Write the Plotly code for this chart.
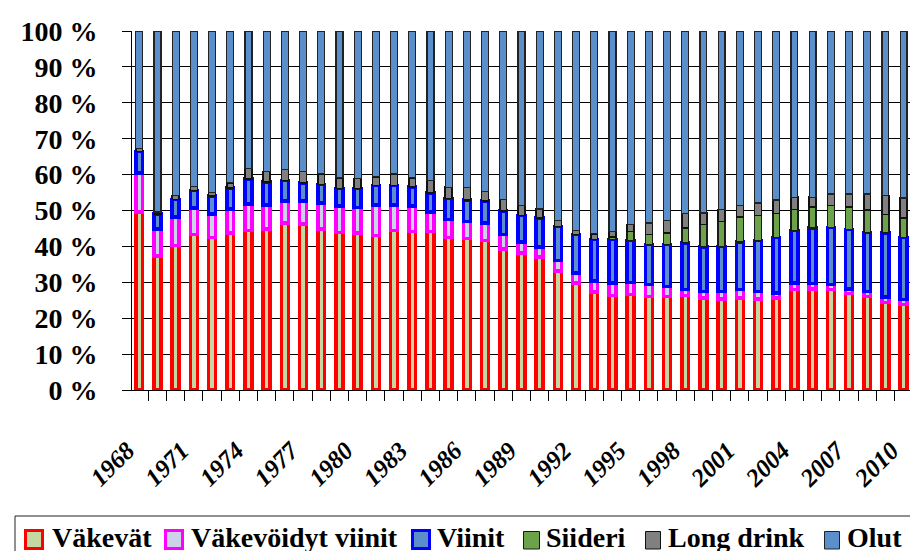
import plotly.graph_objects as go

years = list(range(1968, 2012))

vakevat = [49.6, 37.3, 40.3, 43.3, 42.5, 43.7, 44.5, 44.9, 46.5, 46.3,
           44.9, 43.9, 43.7, 43.0, 44.4, 44.2, 44.2, 42.5, 42.2, 41.7,
           39.3, 38.2, 37.1, 33.1, 29.8, 27.3, 26.3, 26.6, 26.1, 26.1,
           26.3, 25.6, 25.4, 25.6, 25.4, 25.6, 28.0, 28.2, 28.0, 26.9,
           26.1, 24.4, 23.8, 22.4]
vakevoidyt = [10.8, 7.6, 7.9, 7.4, 6.5, 6.7, 7.3, 6.6, 6.1, 6.3,
              7.2, 7.3, 7.2, 8.5, 7.2, 7.0, 5.4, 5.0, 4.8, 4.8,
              4.0, 3.0, 2.8, 3.0, 2.8, 3.0, 3.5, 3.4, 3.3, 2.8,
              1.7, 1.9, 2.1, 2.4, 2.1, 1.4, 1.8, 1.4, 1.4, 1.3,
              1.4, 1.5, 1.4, 1.2]
viinit = [6.0, 4.1, 4.8, 4.9, 5.0, 5.9, 7.0, 6.4, 5.7, 5.1,
          5.1, 4.9, 5.2, 5.4, 5.4, 5.4, 5.3, 5.8, 5.9, 6.1,
          6.5, 7.4, 8.0, 9.5, 10.7, 11.6, 12.1, 11.7, 11.1, 11.6,
          13.0, 12.4, 12.5, 13.2, 14.1, 15.5, 14.7, 15.5, 15.9, 16.5,
          16.4, 17.9, 17.3, 18.8]
siideri = [0, 0, 0, 0, 0, 0, 0, 0, 0, 0,
           0, 0, 0, 0, 0, 0, 0, 0, 0, 0,
           0, 0, 0, 0, 0, 0, 0.7, 2.5, 2.8, 3.3,
           4.1, 6.2, 7.0, 7.0, 7.0, 6.6, 5.8, 5.9, 6.1, 6.3,
           6.2, 5.1, 5.4, 5.1]
long_drink = [0.9, 0.6, 1.2, 1.1, 1.1, 1.4, 2.9, 3.0, 3.1, 3.2,
              3.0, 3.0, 2.8, 2.5, 3.2, 2.5, 3.4, 3.2, 3.6, 2.8,
              3.2, 2.9, 2.5, 1.7, 1.2, 1.6, 1.6, 1.9, 3.2, 3.4,
              4.0, 3.2, 3.3, 3.2, 3.5, 3.8, 3.4, 2.7, 3.2, 3.6,
              4.5, 5.3, 5.6, 5.5]
olut = [32.7, 50.4, 45.8, 43.3, 44.9, 42.3, 38.3, 39.1, 38.6, 39.1,
        39.8, 40.9, 41.1, 40.6, 39.8, 40.9, 41.7, 43.5, 43.5, 44.6,
        47.0, 48.5, 49.6, 52.7, 55.5, 56.5, 55.8, 53.9, 53.5, 52.8,
        50.9, 50.7, 49.7, 48.6, 47.9, 47.1, 46.3, 46.3, 45.4, 45.4,
        45.4, 45.8, 46.5, 47.0]

series_names = ["Väkevät", "Väkevöidyt viinit", "Viinit", "Siideri", "Long drink", "Olut"]
series_values = [vakevat, vakevoidyt, viinit, siideri, long_drink, olut]

tick_years = list(range(1968, 2011, 3))
y_ticks = list(range(0, 101, 10))
y_labels = [f"{v} %" for v in y_ticks]

# styles: fill, border colour, border width
styles = [
    ("#C4D8A4", "#FF0000", 3.5),
    ("#CCD2EA", "#FF00FF", 3.5),
    ("#5A8FCC", "#0000FF", 3.5),
    ("#6BA24A", "#1A1A1A", 1.5),
    ("#808080", "#111111", 1.5),
    ("#5A8FCC", "#222222", 1.2),
]

FAM = "Liberation Serif"
W, H = 918, 551
ML, MR, MT, MB = 124, 0, 23, 169
PW, PH = W - ML - MR, H - MT - MB


def px_x(px):
    return (px - ML) / PW


def px_y(py):
    return (H - MB - py) / PH


fig = go.Figure()
for name, vals, (fill, line, lw) in zip(series_names, series_values, styles):
    fig.add_trace(go.Bar(
        x=years, y=vals, name=name, width=0.38,
        marker=dict(color=fill, line=dict(color=line, width=lw)),
    ))

# hand-drawn legend (larger symbols, as in the original)
shapes = [dict(type="rect", xref="paper", yref="paper",
               x0=px_x(7), x1=px_x(911), y0=px_y(508), y1=px_y(570),
               line=dict(color="#222222", width=1), fillcolor="white", layer="above")]
legend_pos = [  # symbol x0, x1, text x
    (17.5, 34.5, 43),
    (157.5, 174.5, 182),
    (404.5, 421.5, 428),
    (515.5, 531.5, 537),
    (637.5, 652.5, 659),
    (816.5, 831.5, 838),
]
annotations = []
for name, (fill, line, lw), (sx0, sx1, tx) in zip(series_names, styles, legend_pos):
    thick = lw > 2
    shapes.append(dict(
        type="rect", xref="paper", yref="paper",
        x0=px_x(sx0), x1=px_x(sx1),
        y0=px_y(540.5 if thick else 541), y1=px_y(522.5 if thick else 523.5),
        line=dict(color=line, width=3 if thick else 1), fillcolor=fill, layer="above"))
    annotations.append(dict(
        x=px_x(tx), y=px_y(529), xref="paper", yref="paper",
        xanchor="left", yanchor="middle", showarrow=False, text=name,
        font=dict(family=FAM, size=28, weight="bold", color="black"),
        borderpad=0))

fig.update_layout(
    template="none",
    barmode="stack",
    width=W, height=H,
    margin=dict(l=ML, r=MR, t=MT, b=MB, autoexpand=False),
    paper_bgcolor="white", plot_bgcolor="white",
    font=dict(family=FAM, color="black", size=20),
    showlegend=False,
    shapes=shapes,
    annotations=annotations,
    xaxis=dict(
        type="linear", range=[1967.6, 2011.23], automargin=False,
        tickmode="array", tickvals=tick_years,
        ticktext=[str(y) for y in tick_years],
        ticks="", tickangle=-45,
        tickfont=dict(family=FAM, size=25, weight="bold", style="italic", color="black"),
        ticklabelstandoff=35, ticklabelshift=-12,
        showline=True, linecolor="black", linewidth=1,
        showgrid=False, zeroline=False,
        minor=dict(tick0=1967.5, dtick=1, ticks="outside", ticklen=10,
                   tickcolor="black", tickwidth=1, showgrid=False),
    ),
    yaxis=dict(
        range=[0, 100], automargin=False,
        tickmode="array", tickvals=y_ticks, ticktext=y_labels,
        ticks="outside", ticklen=9, tickcolor="black", tickwidth=1,
        tickfont=dict(family=FAM, size=28, weight="bold", color="black"),
        ticklabelstandoff=19,
        showline=True, linecolor="black", linewidth=1,
        showgrid=True, gridcolor="black", gridwidth=1,
        zeroline=False,
    ),
)

fig.write_html("out.html")
